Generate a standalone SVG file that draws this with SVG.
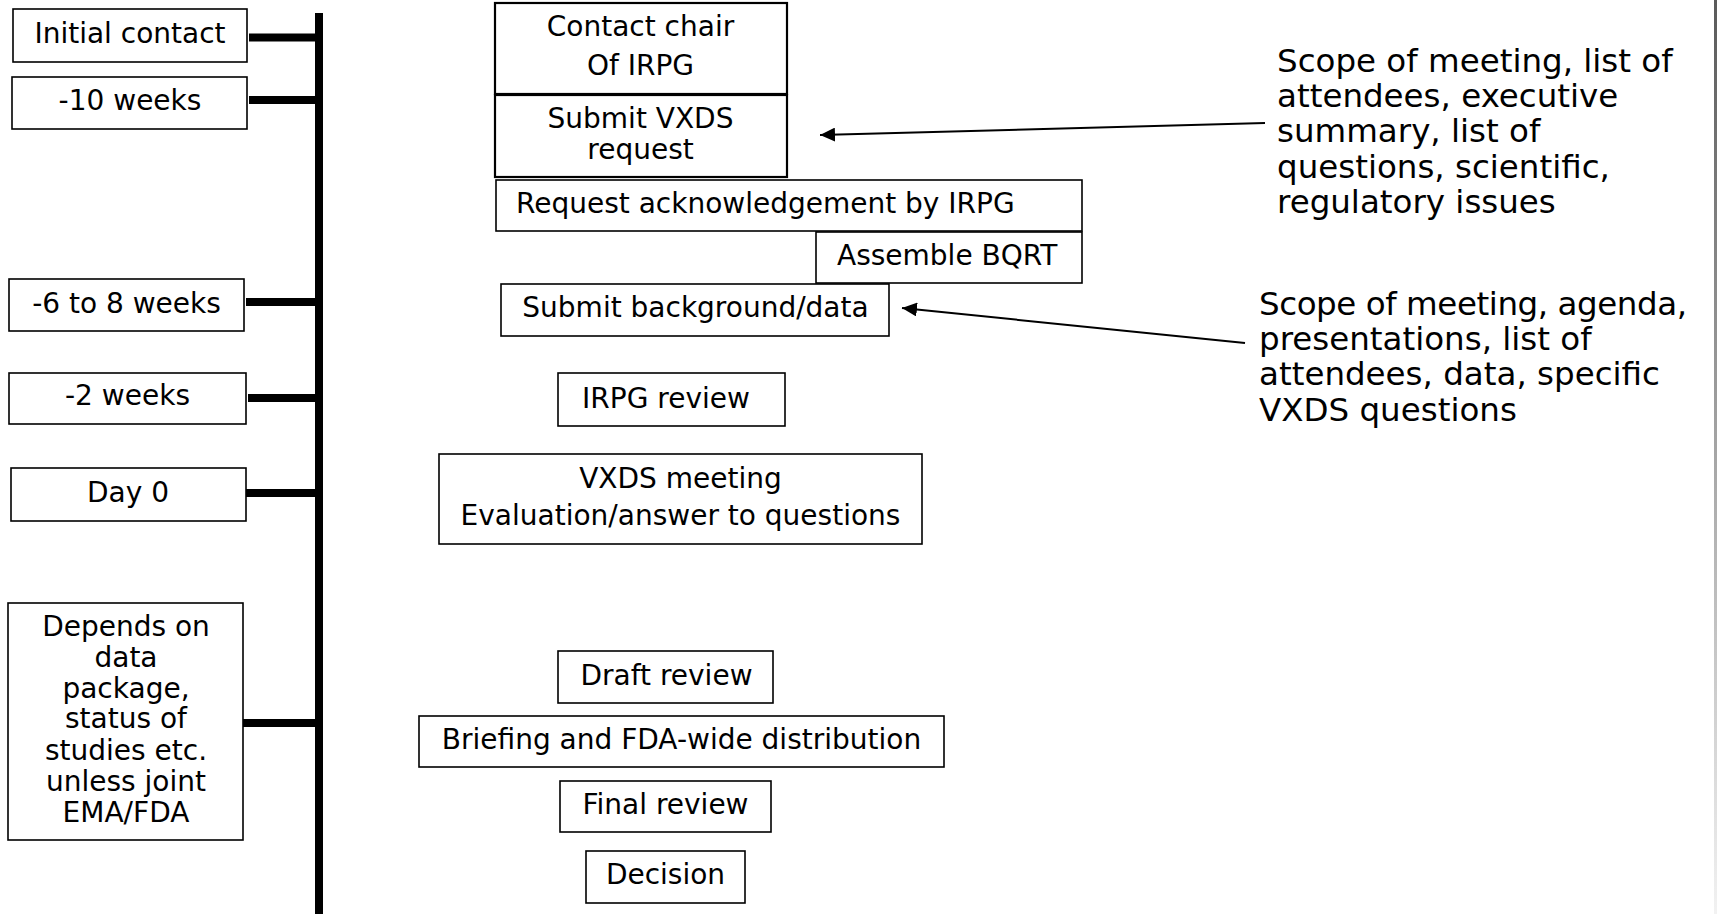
<svg xmlns="http://www.w3.org/2000/svg" width="1717" height="914" viewBox="0 0 1717 914">
<style>
.box{fill:#fff;stroke:#000;stroke-width:1.6}
.boxb{fill:#fff;stroke:#000;stroke-width:2.2}
.t{font-family:"DejaVu Sans","Liberation Sans",sans-serif;font-size:28px;fill:#000}
.c{text-anchor:middle}
.note{font-family:"DejaVu Sans","Liberation Sans",sans-serif;font-size:32.5px;fill:#000}
.stub{stroke:#000;stroke-width:8;fill:none}
.arrow{stroke:#000;stroke-width:2;fill:none;marker-end:url(#ah)}
</style>
<defs>
<marker id="ah" markerUnits="userSpaceOnUse" markerWidth="16" markerHeight="14" refX="15" refY="7" orient="auto"><path d="M0,0 L15,7 L0,14 Z" fill="#000"/></marker>
<linearGradient id="edge" x1="0" y1="0" x2="0" y2="1"><stop offset="0" stop-color="#5a5a5a"/><stop offset="1" stop-color="#f2f2f2"/></linearGradient>
</defs>
<rect x="0" y="0" width="1717" height="914" fill="#fff"/>
<rect x="1714" y="0" width="3" height="914" fill="url(#edge)"/>

<g id="timeline"><rect x="315" y="13" width="8" height="901" fill="#000"/></g>

<g id="connectors">
<line class="stub" x1="249" y1="37.5" x2="316" y2="37.5"/>
<line class="stub" x1="249" y1="100" x2="316" y2="100"/>
<line class="stub" x1="246" y1="302" x2="316" y2="302"/>
<line class="stub" x1="248" y1="398" x2="316" y2="398"/>
<line class="stub" x1="246" y1="493" x2="316" y2="493"/>
<line class="stub" x1="243" y1="723" x2="316" y2="723"/>
<line class="arrow" x1="1265" y1="123" x2="820" y2="135"/>
<line class="arrow" x1="1245" y1="343" x2="902" y2="308"/>
</g>

<g id="lbl-initial"><rect class="box" x="13" y="9" width="234" height="53"/><text class="t c" x="130" y="43">Initial contact</text></g>
<g id="lbl-10w"><rect class="box" x="12" y="77" width="235" height="52"/><text class="t c" x="130" y="110">-10 weeks</text></g>
<g id="lbl-6-8w"><rect class="box" x="9" y="279" width="235" height="52"/><text class="t c" x="126.5" y="313">-6 to 8 weeks</text></g>
<g id="lbl-2w"><rect class="box" x="9" y="373" width="237" height="51"/><text class="t c" x="127.5" y="405">-2 weeks</text></g>
<g id="lbl-day0"><rect class="box" x="11" y="468" width="235" height="53"/><text class="t c" x="128" y="502">Day 0</text></g>
<g id="lbl-depends"><rect class="box" x="8" y="603" width="235" height="237"/>
<text class="t c" x="126" y="636">Depends on</text>
<text class="t c" x="126" y="667">data</text>
<text class="t c" x="126" y="698">package,</text>
<text class="t c" x="126" y="728">status of</text>
<text class="t c" x="126" y="760">studies etc.</text>
<text class="t c" x="126" y="791">unless joint</text>
<text class="t c" x="126" y="822">EMA/FDA</text>
</g>

<g id="contact-chair"><rect class="boxb" x="495" y="3" width="292" height="91"/><text class="t c" x="640.5" y="36">Contact chair</text><text class="t c" x="640.5" y="75">Of IRPG</text></g>
<g id="submit-request"><rect class="boxb" x="495" y="95" width="292" height="82"/><text class="t c" x="640.5" y="128">Submit VXDS</text><text class="t c" x="640.5" y="159">request</text></g>
<g id="request-ack"><rect class="box" x="496" y="180" width="586" height="51"/><text class="t" x="516" y="213">Request acknowledgement by IRPG</text></g>
<g id="assemble-bqrt"><rect class="box" x="816" y="232" width="266" height="51"/><text class="t" x="837" y="265">Assemble BQRT</text></g>
<g id="submit-background"><rect class="box" x="501" y="284" width="388" height="52"/><text class="t c" x="695.5" y="317">Submit background/data</text></g>
<g id="irpg-review"><rect class="box" x="558" y="373" width="227" height="53"/><text class="t c" x="666" y="408">IRPG review</text></g>
<g id="vxds-meeting"><rect class="box" x="439" y="454" width="483" height="90"/><text class="t c" x="680.5" y="488">VXDS meeting</text><text class="t c" x="680.5" y="525">Evaluation/answer to questions</text></g>
<g id="draft-review"><rect class="box" x="558" y="651" width="215" height="52"/><text class="t c" x="666.5" y="685">Draft review</text></g>
<g id="briefing"><rect class="box" x="419" y="716" width="525" height="51"/><text class="t c" x="681.5" y="749">Briefing and FDA-wide distribution</text></g>
<g id="final-review"><rect class="box" x="560" y="781" width="211" height="51"/><text class="t c" x="665.5" y="814">Final review</text></g>
<g id="decision"><rect class="box" x="586" y="851" width="159" height="52"/><text class="t c" x="665.5" y="884">Decision</text></g>

<g id="note-request">
<text class="note" x="1277" y="72">Scope of meeting, list of</text>
<text class="note" x="1277" y="107">attendees, executive</text>
<text class="note" x="1277" y="142">summary, list of</text>
<text class="note" x="1277" y="178">questions, scientific,</text>
<text class="note" x="1277" y="213">regulatory issues</text>
</g>
<g id="note-background">
<text class="note" x="1259" y="315" textLength="428">Scope of meeting, agenda,</text>
<text class="note" x="1259" y="350">presentations, list of</text>
<text class="note" x="1259" y="385">attendees, data, specific</text>
<text class="note" x="1259" y="421">VXDS questions</text>
</g>
</svg>
